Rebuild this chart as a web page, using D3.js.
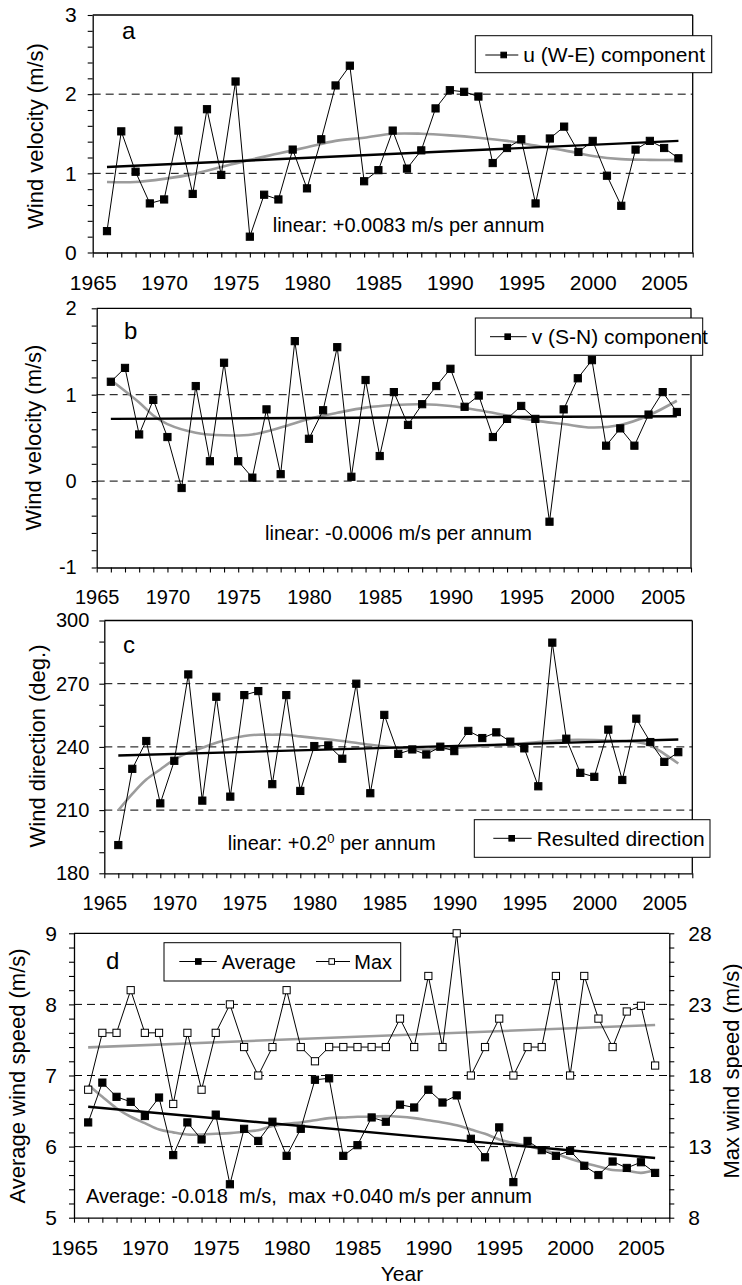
<!DOCTYPE html>
<html>
<head>
<meta charset="utf-8">
<script src="https://cdn.jsdelivr.net/npm/d3@7"></script>
<style>
  body { margin: 0; background: #fff; }
  svg { display: block; font-family: "Liberation Sans", Arial, sans-serif; }
</style>
</head>
<body>
<svg id="fig" width="742" height="1285"></svg>
<script>
// years of observation
const years = [1966, 1967, 1968, 1969, 1970, 1971, 1972, 1973, 1974, 1975,
  1976, 1977, 1978, 1979, 1980, 1981, 1982, 1983, 1984, 1985,
  1986, 1987, 1988, 1989, 1990, 1991, 1992, 1993, 1994, 1995,
  1996, 1997, 1998, 1999, 2000, 2001, 2002, 2003, 2004, 2005, 2006];
const xLabels = [1965, 1970, 1975, 1980, 1985, 1990, 1995, 2000, 2005];
const trendYears = [1966, 2006];

// a: u (W-E) component, m/s
const uComp = [0.27, 1.53, 1.02, 0.62, 0.67, 1.54, 0.74, 1.81, 0.98, 2.16,
  0.20, 0.73, 0.67, 1.30, 0.81, 1.43, 2.11, 2.36, 0.90, 1.04,
  1.54, 1.06, 1.29, 1.82, 2.05, 2.03, 1.97, 1.13, 1.32, 1.43,
  0.62, 1.44, 1.59, 1.27, 1.41, 0.97, 0.59, 1.30, 1.41, 1.32, 1.19];
const uTrend = [1.08, 1.41];
const uSmoothYears = [1966, 1968, 1970, 1972, 1974, 1976, 1978, 1980, 1982, 1984, 1986,
  1988, 1990, 1992, 1994, 1996, 1998, 2000, 2002, 2004, 2006];
const uSmooth = [0.89, 0.89, 0.93, 0.99, 1.08, 1.17, 1.25, 1.33, 1.41, 1.45, 1.50,
  1.50, 1.48, 1.45, 1.41, 1.35, 1.29, 1.22, 1.18, 1.17, 1.17];

// b: v (S-N) component, m/s
const vComp = [1.15, 1.31, 0.54, 0.94, 0.51, -0.08, 1.10, 0.23, 1.37, 0.23,
  0.04, 0.83, 0.08, 1.62, 0.49, 0.82, 1.55, 0.05, 1.17, 0.29,
  1.03, 0.65, 0.89, 1.10, 1.30, 0.86, 0.99, 0.51, 0.72, 0.87,
  0.72, -0.47, 0.83, 1.19, 1.40, 0.41, 0.61, 0.41, 0.77, 1.03, 0.80];
const vTrend = [0.72, 0.75];
const vSmoothYears = [1966, 1968, 1969, 1970, 1972, 1974, 1976, 1978, 1980, 1982, 1984,
  1986, 1988, 1990, 1992, 1994, 1996, 1998, 2000, 2002, 2004, 2006];
const vSmooth = [1.17, 0.91, 0.76, 0.66, 0.56, 0.53, 0.54, 0.62, 0.72, 0.79, 0.85,
  0.88, 0.89, 0.87, 0.82, 0.76, 0.70, 0.66, 0.62, 0.65, 0.76, 0.93];

// c: resulted direction, degrees
const direction = [193.4, 229.6, 242.8, 213.2, 233.4, 274.4, 214.5, 263.8, 216.4, 264.6,
  266.5, 222.3, 264.6, 219.1, 240.4, 240.7, 234.4, 270.0, 218.0, 255.2,
  236.7, 238.8, 236.4, 240.1, 238.0, 247.6, 244.2, 246.9, 242.5, 239.3,
  221.3, 289.5, 243.9, 227.7, 225.8, 248.2, 224.3, 253.4, 242.3, 232.9, 237.5];
const dirTrend = [235.9, 243.5];
const dirSmoothYears = [1966, 1967, 1968, 1969, 1970, 1971, 1972, 1973, 1974, 1975, 1976,
  1977, 1978, 1979, 1980, 1982, 1984, 1986, 1988, 1990, 1992, 1994, 1996,
  1998, 2000, 2002, 2003, 2004, 2005, 2006];
const dirSmooth = [209.9, 217.7, 224.5, 229.3, 234.0, 237.3, 239.6, 242.0, 243.9, 245.2, 245.8,
  245.8, 245.8, 245.0, 244.3, 242.8, 241.0, 239.6, 238.8, 239.6, 240.4, 241.2, 242.3,
  243.3, 243.3, 242.8, 242.3, 240.7, 236.7, 232.1];

// d: average and max wind speed, m/s
const avgSpeed = [6.34, 6.90, 6.70, 6.63, 6.43, 6.69, 5.88, 6.34, 6.10, 6.45,
  5.47, 6.25, 6.08, 6.35, 5.87, 6.25, 6.94, 6.96, 5.87, 6.02,
  6.41, 6.35, 6.59, 6.55, 6.80, 6.62, 6.72, 6.11, 5.85, 6.27,
  5.50, 6.08, 5.95, 5.87, 5.94, 5.73, 5.60, 5.79, 5.70, 5.78, 5.63];
const avgTrend = [6.56, 5.84];
const avgSmooth = [6.87, 6.70, 6.54, 6.42, 6.33, 6.24, 6.20, 6.17, 6.17, 6.18,
  6.19, 6.21, 6.23, 6.29, 6.32, 6.34, 6.37, 6.40, 6.41, 6.42,
  6.42, 6.43, 6.42, 6.40, 6.37, 6.34, 6.30, 6.24, 6.18, 6.10,
  6.05, 6.01, 5.96, 5.90, 5.83, 5.77, 5.72, 5.67, 5.66, 5.63, 5.67];
const maxSpeed = [17, 21, 21, 24, 21, 21, 16, 21, 17, 21,
  23, 20, 18, 20, 24, 20, 19, 20, 20, 20,
  20, 20, 22, 20, 25, 20, 28, 18, 20, 22,
  18, 20, 20, 25, 18, 25, 22, 20, 22.5, 22.9, 18.7];
const maxTrend = [19.98, 21.55];

const svg = d3.select('#fig');
const font = '"Liberation Sans", Arial, sans-serif';
const grey = '#9c9c9c';

function pairs(xs, ys) {
  return xs.map((d, i) => [d, ys[i]]);
}

function isMajor(d, step) {
  return Math.abs(d / step - Math.round(d / step)) < 1e-6;
}

function styleAxis(g, size) {
  g.select('.domain').attr('stroke', '#000').attr('stroke-width', 1.3);
  g.selectAll('.tick line').attr('stroke', '#000').attr('stroke-width', 1.1);
  g.selectAll('.tick text').attr('fill', '#000').style('font-size', size + 'px').style('font-family', font);
}

function drawPanel(p) {
  const x = d3.scaleLinear().domain([1965, 2007]).range([p.left, p.right]);
  const y = d3.scaleLinear().domain(p.yDomain).range([p.bottom, p.top]);
  const g = svg.append('g');

  // dashed reference lines
  g.selectAll(null)
    .data(p.grid)
    .enter()
    .append('line')
    .attr('x1', p.left).attr('x2', p.right)
    .attr('y1', (d) => y(d)).attr('y2', (d) => y(d))
    .attr('stroke', '#000').attr('stroke-width', 1)
    .attr('stroke-dasharray', '8,5');

  // frame
  g.append('line').attr('x1', p.left).attr('x2', p.right).attr('y1', p.top).attr('y2', p.top)
    .attr('stroke', '#000').attr('stroke-width', 1.3);
  if (!p.y2Domain) {
    g.append('line').attr('x1', p.right).attr('x2', p.right).attr('y1', p.top).attr('y2', p.bottom)
      .attr('stroke', '#000').attr('stroke-width', 1.3);
  }

  // axes
  const xTicks = d3.range(1965, 2008);
  const xAxis = d3.axisBottom(x)
    .tickValues(xTicks)
    .tickSizeInner(5).tickSizeOuter(0)
    .tickPadding(p.xPad)
    .tickFormat((d) => xLabels.includes(d) ? d : '');
  g.append('g').attr('transform', `translate(0, ${p.bottom})`).call(xAxis).call(styleAxis, p.fs);

  const yTicks = d3.range(0, Math.round((p.yDomain[1] - p.yDomain[0]) / p.yMinor) + 1)
    .map((i) => p.yDomain[0] + i * p.yMinor);
  const yAxis = d3.axisLeft(y)
    .tickValues(yTicks)
    .tickSizeInner(5).tickSizeOuter(0)
    .tickPadding(p.yPad)
    .tickFormat((d) => isMajor(d - p.yDomain[0], p.yMajor) ? String(Math.round(d)) : '');
  g.append('g').attr('transform', `translate(${p.left}, 0)`).call(yAxis).call(styleAxis, p.fs);

  let y2 = null;
  if (p.y2Domain) {
    y2 = d3.scaleLinear().domain(p.y2Domain).range([p.bottom, p.top]);
    const y2Ticks = d3.range(0, Math.round((p.y2Domain[1] - p.y2Domain[0]) / p.y2Minor) + 1)
      .map((i) => p.y2Domain[0] + i * p.y2Minor);
    const y2Axis = d3.axisRight(y2)
      .tickValues(y2Ticks)
      .tickSizeInner(5).tickSizeOuter(0)
      .tickPadding(14)
      .tickFormat((d) => isMajor(d - p.y2Domain[0], p.y2Major) ? String(Math.round(d)) : '');
    g.append('g').attr('transform', `translate(${p.right}, 0)`).call(y2Axis).call(styleAxis, p.fs);
  }

  // fitted curves and trend lines
  p.lines.forEach((l) => {
    const sc = l.right ? y2 : y;
    const line = d3.line()
      .x((d) => x(d[0]))
      .y((d) => sc(d[1]))
      .curve(l.smooth ? d3.curveCatmullRom : d3.curveLinear);
    g.append('path')
      .datum(pairs(l.xs, l.ys))
      .attr('d', line)
      .attr('fill', 'none')
      .attr('stroke', l.color)
      .attr('stroke-width', l.width);
  });

  // observed series
  p.series.forEach((s) => {
    const sc = s.right ? y2 : y;
    const pts = pairs(years, s.values);
    g.append('path')
      .datum(pts)
      .attr('d', d3.line().x((d) => x(d[0])).y((d) => sc(d[1])))
      .attr('fill', 'none')
      .attr('stroke', '#000')
      .attr('stroke-width', 1);
    g.selectAll(null)
      .data(pts)
      .enter()
      .append('rect')
      .attr('x', (d) => x(d[0]) - 3.6)
      .attr('y', (d) => sc(d[1]) - 3.6)
      .attr('width', 7.2)
      .attr('height', 7.2)
      .attr('fill', s.open ? '#fff' : '#000')
      .attr('stroke', '#000')
      .attr('stroke-width', 1);
  });

  // panel letter
  g.append('text').attr('x', p.letter[0]).attr('y', p.letter[1])
    .style('font-size', '24px').text(p.name);

  // axis titles
  p.titles.forEach((t) => {
    g.append('text')
      .attr('transform', `translate(${t.x}, ${t.y}) rotate(-90)`)
      .attr('text-anchor', 'middle')
      .attr('dominant-baseline', 'central')
      .style('font-size', '22px')
      .text(t.text);
  });

  // legend
  const lg = p.legend;
  g.append('rect')
    .attr('x', lg.box[0]).attr('y', lg.box[1])
    .attr('width', lg.box[2] - lg.box[0]).attr('height', lg.box[3] - lg.box[1])
    .attr('fill', '#fff').attr('stroke', '#000').attr('stroke-width', 1);
  lg.items.forEach((it) => {
    g.append('line').attr('x1', it.x1).attr('x2', it.x2).attr('y1', lg.cy).attr('y2', lg.cy)
      .attr('stroke', '#000').attr('stroke-width', 1);
    g.append('rect').attr('x', it.mx - 2.8).attr('y', lg.cy - 2.8).attr('width', 5.6).attr('height', 5.6)
      .attr('fill', it.open ? '#fff' : '#000').attr('stroke', '#000').attr('stroke-width', 1);
    g.append('text').attr('x', it.tx).attr('y', lg.cy).attr('dy', '0.35em')
      .style('font-size', lg.fs + 'px').text(it.label);
  });

  // annotation
  const note = g.append('text').attr('x', p.note.x).attr('y', p.note.y)
    .attr('xml:space', 'preserve').style('white-space', 'pre')
    .style('font-size', '20px');
  p.note.parts.forEach((part) => {
    const ts = note.append('tspan').text(part.t);
    if (part.sup) ts.attr('baseline-shift', 'super').style('font-size', '13px');
  });
}

drawPanel({
  name: 'a', left: 92.7, right: 692.7, top: 15, bottom: 252.5,
  yDomain: [0, 3], yMinor: 0.2, yMajor: 1, grid: [1, 2],
  fs: 21, xPad: 18, yPad: 11,
  series: [{ values: uComp }],
  lines: [
    { xs: uSmoothYears, ys: uSmooth, smooth: true, color: grey, width: 2.6 },
    { xs: trendYears, ys: uTrend, color: '#000', width: 2.4 }
  ],
  letter: [122, 39],
  titles: [{ x: 35, y: 136, text: 'Wind velocity (m/s)' }],
  legend: { box: [475.3, 35.7, 711.7, 72.7], cy: 55, fs: 21,
    items: [{ x1: 485.3, x2: 518.3, mx: 503.7, tx: 523.3, label: 'u (W-E) component' }] },
  note: { x: 272.7, y: 231.7, parts: [{ t: 'linear: +0.0083 m/s per annum' }] }
});

drawPanel({
  name: 'b', left: 96.7, right: 691, top: 308.3, bottom: 567.5,
  yDomain: [-1, 2], yMinor: 0.2, yMajor: 1, grid: [0, 1],
  fs: 20, xPad: 17, yPad: 15,
  series: [{ values: vComp }],
  lines: [
    { xs: vSmoothYears, ys: vSmooth, smooth: true, color: grey, width: 2.6 },
    { xs: trendYears, ys: vTrend, color: '#000', width: 2.4 }
  ],
  letter: [124, 339],
  titles: [{ x: 33, y: 437.5, text: 'Wind velocity (m/s)' }],
  legend: { box: [475.3, 318, 702.7, 355.3], cy: 336.7, fs: 21,
    items: [{ x1: 490, x2: 526.7, mx: 507.7, tx: 531.7, label: 'v (S-N) component' }] },
  note: { x: 265, y: 540, parts: [{ t: 'linear: -0.0006 m/s per annum' }] }
});

drawPanel({
  name: 'c', left: 104.3, right: 692.3, top: 620.5, bottom: 873.3,
  yDomain: [180, 300], yMinor: 10, yMajor: 30, grid: [210, 240, 270],
  fs: 20, xPad: 18, yPad: 10,
  series: [{ values: direction }],
  lines: [
    { xs: dirSmoothYears, ys: dirSmooth, smooth: true, color: grey, width: 2.6 },
    { xs: trendYears, ys: dirTrend, color: '#000', width: 2.4 }
  ],
  letter: [123, 652.7],
  titles: [{ x: 37, y: 746, text: 'Wind direction (deg.)' }],
  legend: { box: [474.3, 819.7, 710, 857.3], cy: 838.3, fs: 21,
    items: [{ x1: 493.3, x2: 531.7, mx: 511.7, tx: 536.7, label: 'Resulted direction' }] },
  note: { x: 227.7, y: 850, parts: [{ t: 'linear: +0.2' }, { t: '0', sup: true }, { t: ' per annum' }] }
});

drawPanel({
  name: 'd', left: 74, right: 669.3, top: 933.3, bottom: 1217.7,
  yDomain: [5, 9], yMinor: 0.2, yMajor: 1, grid: [6, 7, 8],
  y2Domain: [8, 28], y2Minor: 1, y2Major: 5,
  fs: 21, xPad: 17, yPad: 12,
  series: [{ values: avgSpeed }, { values: maxSpeed, right: true, open: true }],
  lines: [
    { xs: years, ys: avgSmooth, smooth: true, color: grey, width: 2.6 },
    { xs: trendYears, ys: avgTrend, color: '#000', width: 2.4 },
    { xs: trendYears, ys: maxTrend, right: true, color: grey, width: 2.6 }
  ],
  letter: [106, 969.3],
  titles: [
    { x: 17.5, y: 1076, text: 'Average wind speed (m/s)' },
    { x: 731, y: 1071, text: 'Max wind speed (m/s)' }
  ],
  legend: { box: [164, 942.7, 400.7, 981], cy: 961.5, fs: 20,
    items: [
      { x1: 179.3, x2: 216.7, mx: 198.3, tx: 221.7, label: 'Average' },
      { x1: 316, x2: 350, mx: 331.7, tx: 354.3, label: 'Max', open: true }
    ] },
  note: { x: 86, y: 1203.3, parts: [{ t: 'Average: -0.018  m/s,  max +0.040 m/s per annum' }] }
});

svg.append('text')
  .attr('x', 402).attr('y', 1281)
  .attr('text-anchor', 'middle')
  .style('font-size', '21px')
  .text('Year');
</script>
</body>
</html>
